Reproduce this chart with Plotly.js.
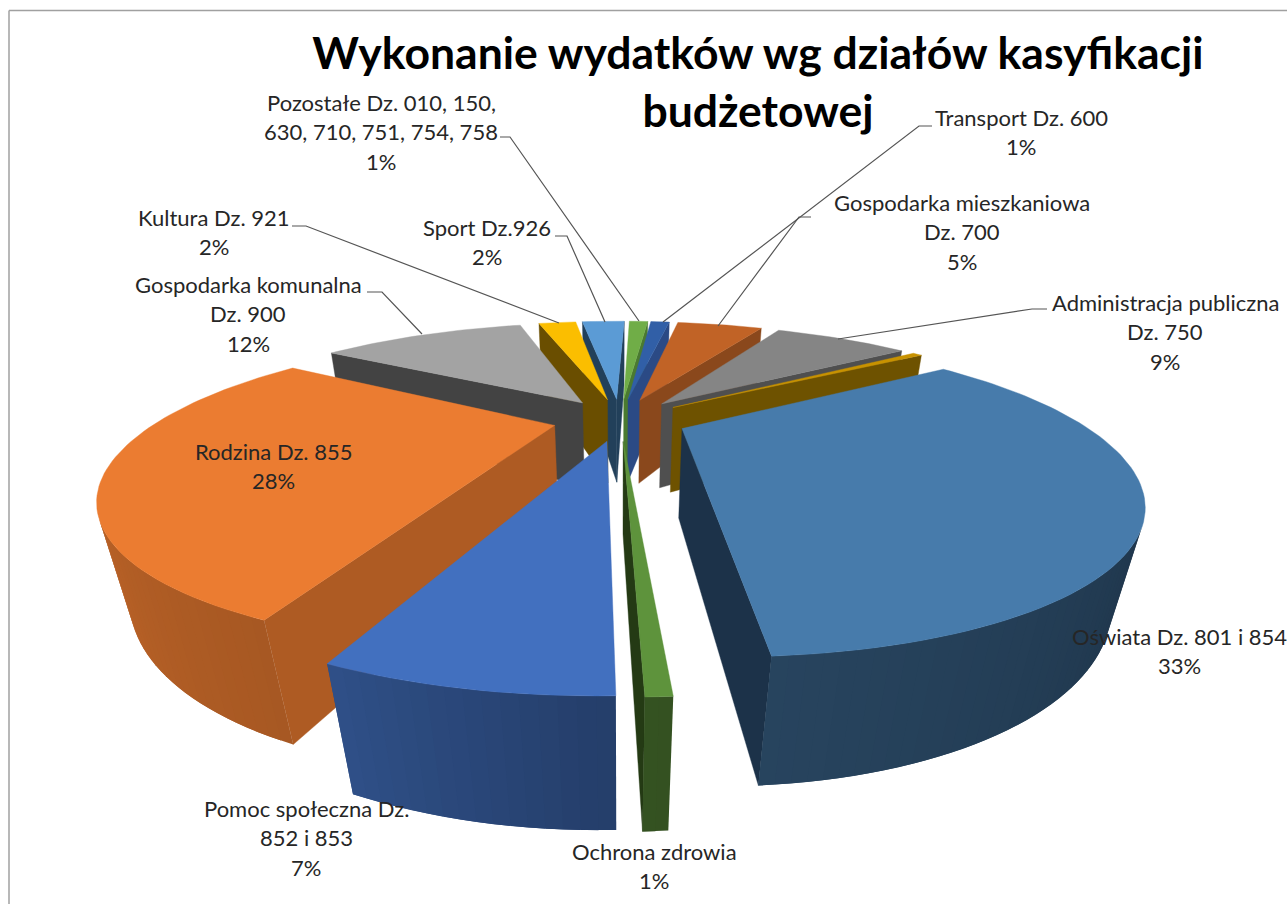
<!DOCTYPE html>
<html lang="pl">
<head>
<meta charset="utf-8">
<title>Wykonanie wydatków wg działów kasyfikacji budżetowej</title>
<script src="https://cdn.plot.ly/plotly-3.0.1.min.js"></script>
<style>html,body{margin:0;padding:0;background:#fff}#chart{width:1287px;height:904px}</style>
</head>
<body>
<div id="chart"></div>
<script>
// Data, in drawing order (clockwise seen from above, starting at Oświata)
const sliceNames = ['Oświata','Ochrona zdrowia','Pomoc społeczna','Rodzina','Gospodarka komunalna','Kultura','Sport','Pozostałe','Transport','Gospodarka mieszkaniowa','Administracja publiczna','Inne'];
const sliceValues = [33.4,0.6,6.6,28.0,11.5,2.2,2.5,1.1,1.1,5.0,7.5,0.5];
const topColors  = ['#477BAB','#5E933C','#4270BF','#EB7C31','#A3A3A3','#FBBE00','#5B9BD5','#70AD47','#315FA7','#C16326','#858585','#C89200'];
const wallColors = ['#1C3249','#243A14','#2B4A85','#AE5B23','#434343','#6A4E00','#22405A','#4A7A30','#2B4A85','#8A481C','#4F4F4F','#6E5200'];

// Labels: text lines, centre x, first line y
const labelLines = [
  ['Oświata Dz. 801 i 854','33%'],
  ['Ochrona zdrowia','1%'],
  ['Pomoc społeczna Dz.','852 i 853','7%'],
  ['Rodzina Dz. 855','28%'],
  ['Gospodarka komunalna','Dz. 900','12%'],
  ['Kultura Dz. 921','2%'],
  ['Sport Dz.926','2%'],
  ['Pozostałe Dz. 010, 150,','630, 710, 751, 754, 758','1%'],
  ['Transport Dz. 600','1%'],
  ['Gospodarka mieszkaniowa','Dz. 700','5%'],
  ['Administracja publiczna','Dz. 750','9%']
];
const labelX = [1179,654,306,273,248,214,487,381,1021,962,1165];
const labelY = [636,851,808,451,284,217,227,102,117,202,302];
const lineGap = 29.5;

// Leader line routes
const leaderX = [[367,382,422],[292,306,559],[555,567,605],[500,510,639],[932,919,663],[811,799,718],[1047,1032,838]];
const leaderY = [[292,292,334],[226,226,323],[236,236,322],[137,137,321],[126,126,322],[217,217,326],[309,309,339]];

// Camera and pie geometry: a plane homography plus a depth term for the height
const cx = 620, cy = 419, focal = 912, dist = 2.315, elev = 18.3 * Math.PI / 180;
const heightDepth = 0.503;
const thick = 0.246, explode = 0.17, startPhi = -123.85;
const sinE = Math.sin(elev), cosE = Math.cos(elev);
const camZ = dist / (cosE * cosE / sinE + heightDepth);
const cam = [0, camZ * cosE / sinE, camZ];
const rimPhi = [-180,-124,-60,0,22,90,124,180];
const rimShade = [0.38,0.38,0.44,0.56,0.71,0.85,0.88,0.88];

function project(X, Y, Z) {
  const d = dist - Y * cosE - Z * heightDepth;
  return [cx + focal * X / d, cy - focal * (Z * cosE - Y * sinE) / d];
}
function shade(hex, f) {
  const n = parseInt(hex.slice(1), 16);
  const c = [(n >> 16) & 255, (n >> 8) & 255, n & 255].map(v => Math.round(v * f));
  return `rgb(${c[0]},${c[1]},${c[2]})`;
}
function rimFactor(phi) {
  let p = ((phi + 180) % 360 + 360) % 360 - 180;
  for (let i = 1; i < rimPhi.length; i++) {
    if (p <= rimPhi[i]) {
      const t = (p - rimPhi[i - 1]) / (rimPhi[i] - rimPhi[i - 1]);
      return rimShade[i - 1] + t * (rimShade[i] - rimShade[i - 1]);
    }
  }
  return rimShade[rimShade.length - 1];
}
function poly(points, color, width) {
  return {
    type: 'scatter', mode: 'lines', fill: 'toself', fillcolor: color,
    x: points.map(p => p[0]), y: points.map(p => p[1]),
    line: { color: color, width: width }, hoverinfo: 'skip', showlegend: false
  };
}
const rad = d => d * Math.PI / 180;
const dirOf = phi => [-Math.sin(rad(phi)), Math.cos(rad(phi))];
const faces = (n, p) => n[0] * (cam[0] - p[0]) + n[1] * (cam[1] - p[1]) + n[2] * (cam[2] - p[2]) > 0;

const total = sliceValues.reduce((a, b) => a + b, 0);
let running = startPhi;
const slices = sliceValues.map((v, i) => {
  const a0 = running, a1 = running + v / total * 360;
  running = a1;
  return { i, a0, a1, mid: (a0 + a1) / 2 };
});
slices.sort((a, b) => Math.cos(rad(a.mid)) - Math.cos(rad(b.mid)));

const traces = [];
slices.forEach(s => {
  const e = dirOf(s.mid);
  const ax = e[0] * explode, ay = e[1] * explode;
  const steps = Math.max(2, Math.ceil((s.a1 - s.a0) / 1.5));
  const rimPts = [];
  for (let k = 0; k <= steps; k++) {
    const phi = s.a0 + (s.a1 - s.a0) * k / steps, d = dirOf(phi);
    rimPts.push({ phi, x: ax + d[0], y: ay + d[1], d });
  }
  // radial walls
  const edge = (phi, n) => {
    if (!faces([n[0], n[1], 0], [ax, ay, 0])) return;
    const d = dirOf(phi);
    traces.push(poly([
      project(ax, ay, 0), project(ax + d[0], ay + d[1], 0),
      project(ax + d[0], ay + d[1], -thick), project(ax, ay, -thick),
      project(ax, ay, 0)
    ], wallColors[s.i], 0.4));
  };
  edge(s.a0, [Math.cos(rad(s.a0)), Math.sin(rad(s.a0))]);
  edge(s.a1, [-Math.cos(rad(s.a1)), -Math.sin(rad(s.a1))]);
  // rounded outer wall: each strip runs under the next one, so no seam shows
  for (let k = 0; k < steps; k++) {
    const p = rimPts[k], q = rimPts[Math.min(k + 2, steps)], m = rimPts[k + 1];
    const phi = (p.phi + m.phi) / 2, n = dirOf(phi);
    if (!faces([n[0], n[1], 0], [(p.x + m.x) / 2, (p.y + m.y) / 2, 0])) continue;
    traces.push(poly([
      project(p.x, p.y, 0), project(m.x, m.y, 0), project(q.x, q.y, 0),
      project(q.x, q.y, -thick), project(m.x, m.y, -thick), project(p.x, p.y, -thick),
      project(p.x, p.y, 0)
    ], shade(topColors[s.i], rimFactor(phi)), 0));
  }
  // top face
  const top = [project(ax, ay, 0)];
  rimPts.forEach(p => top.push(project(p.x, p.y, 0)));
  top.push(project(ax, ay, 0));
  traces.push(poly(top, topColors[s.i], 0.4));
});

leaderX.forEach((xs, i) => traces.push({
  type: 'scatter', mode: 'lines', x: xs, y: leaderY[i],
  line: { color: '#555555', width: 1.2 }, hoverinfo: 'skip', showlegend: false
}));

const annotations = [];
labelLines.forEach((lines, i) => lines.forEach((txt, j) => annotations.push({
  x: labelX[i], y: labelY[i] + j * lineGap, xref: 'x', yref: 'y',
  xanchor: 'center', yanchor: 'middle', showarrow: false, text: txt,
  font: { family: 'Lato, sans-serif', size: 22, color: '#262626' }
})));

const layout = {
  width: 1287, height: 904, autosize: false,
  margin: { l: 0, r: 0, t: 0, b: 0 },
  paper_bgcolor: '#ffffff', plot_bgcolor: '#ffffff', showlegend: false,
  title: {
    text: '<b>Wykonanie wydatków wg działów kasyfikacji<br>budżetowej</b>',
    x: 758 / 1287, xanchor: 'center', y: 0.924, yanchor: 'top',
    font: { family: 'Lato, sans-serif', size: 44.5, color: '#000000' }
  },
  xaxis: { range: [0, 1287], visible: false, fixedrange: true },
  yaxis: { range: [904, 0], visible: false, fixedrange: true },
  shapes: [
    { type: 'line', xref: 'paper', yref: 'paper', x0: 9 / 1287, x1: 1, y0: 1 - 10.5 / 904, y1: 1 - 10.5 / 904, line: { color: '#A0A0A0', width: 1.5 } },
    { type: 'line', xref: 'paper', yref: 'paper', x0: 9 / 1287, x1: 9 / 1287, y0: 1 - 10.5 / 904, y1: 0, line: { color: '#A0A0A0', width: 1.5 } }
  ],
  annotations
};
Plotly.newPlot('chart', traces, layout, { displayModeBar: false, staticPlot: true });
</script>
</body>
</html>
